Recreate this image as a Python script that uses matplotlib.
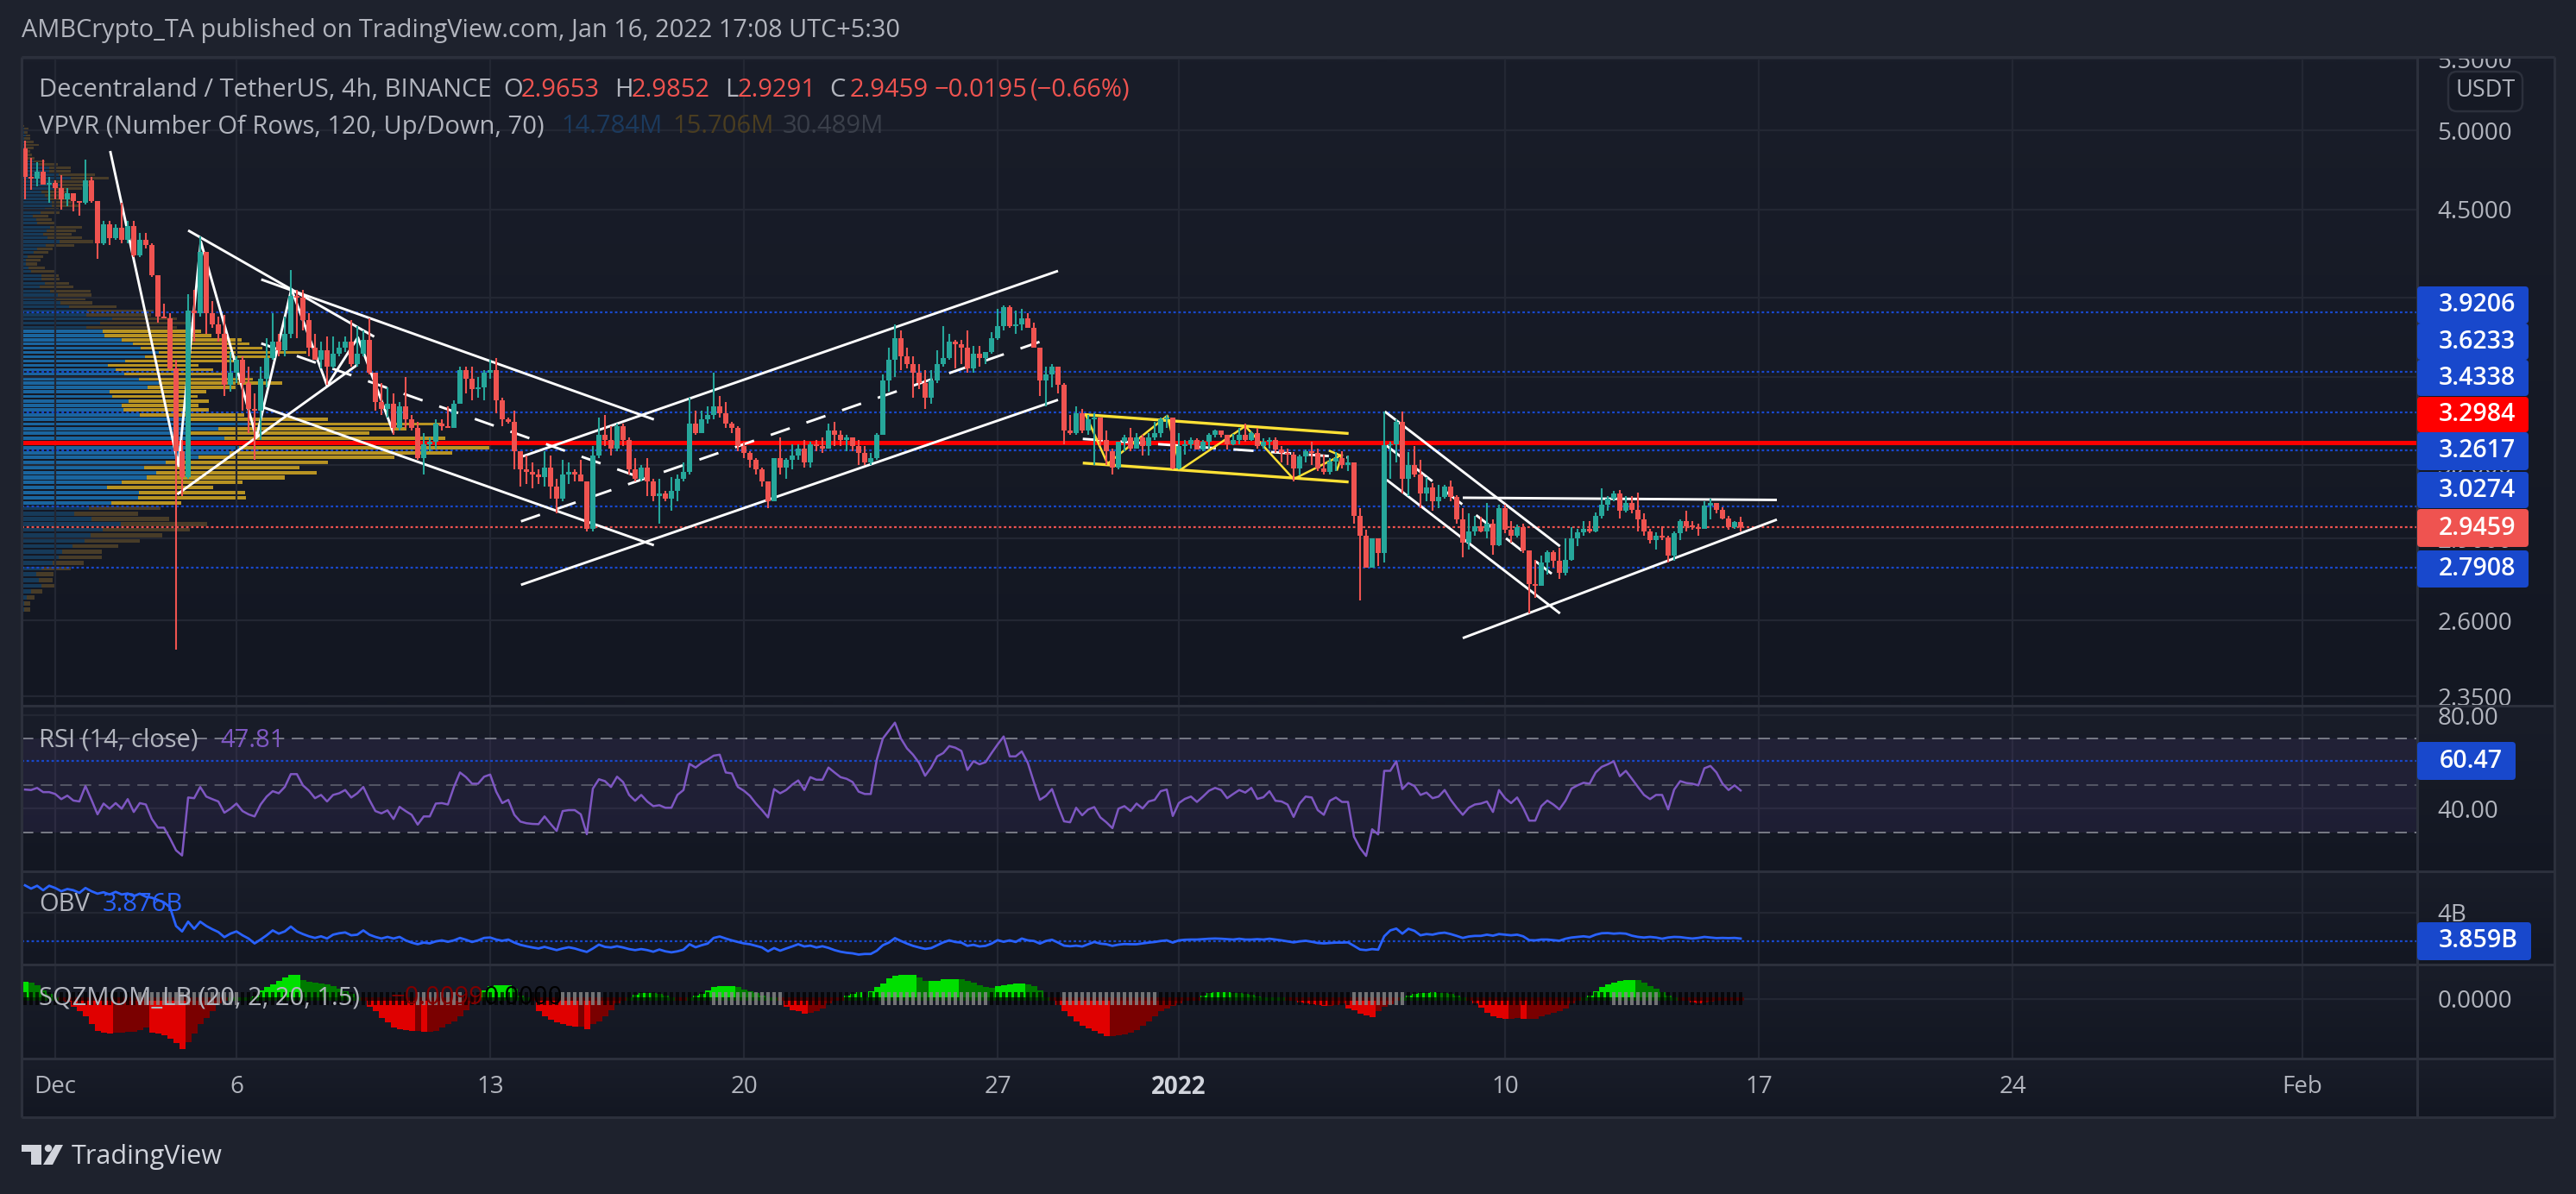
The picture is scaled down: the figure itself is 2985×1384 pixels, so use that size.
import numpy as np
import matplotlib
matplotlib.use("Agg")
import matplotlib.pyplot as plt
from matplotlib.patches import FancyBboxPatch, Polygon, Circle
from matplotlib.transforms import Bbox

W, H = 2985, 1384
FONT = "Open Sans"
plt.rcParams["font.family"] = [FONT, "DejaVu Sans"]

first_open = 4.88
closes = [
4.70,4.69,4.73,4.65,4.66,4.63,4.56,4.60,4.55,4.54,
4.68,4.55,4.30,4.41,4.33,4.39,4.32,4.40,4.23,4.32,
4.29,4.12,3.90,3.89,3.64,3.26,3.15,3.93,3.92,4.25,
3.92,3.86,3.81,3.56,3.62,3.68,3.57,3.45,3.44,3.59,
3.69,3.77,3.73,3.81,4.01,4.00,3.88,3.74,3.68,3.73,
3.65,3.71,3.74,3.77,3.66,3.71,3.78,3.62,3.48,3.45,
3.47,3.36,3.46,3.40,3.36,3.23,3.29,3.30,3.38,3.37,
3.36,3.47,3.63,3.59,3.54,3.55,3.62,3.63,3.49,3.40,
3.39,3.26,3.18,3.17,3.16,3.15,3.19,3.11,3.06,3.16,
3.17,3.16,3.13,2.94,3.24,3.33,3.31,3.27,3.37,3.31,
3.18,3.14,3.19,3.13,3.07,3.08,3.06,3.09,3.14,3.17,
3.38,3.34,3.40,3.42,3.46,3.43,3.38,3.36,3.28,3.25,
3.22,3.18,3.13,3.05,3.23,3.19,3.22,3.24,3.27,3.21,
3.29,3.28,3.27,3.35,3.33,3.31,3.32,3.28,3.25,3.21,
3.23,3.33,3.58,3.68,3.79,3.70,3.66,3.62,3.57,3.50,
3.58,3.66,3.69,3.77,3.76,3.74,3.64,3.71,3.69,3.72,
3.79,3.85,3.95,3.85,3.86,3.89,3.84,3.74,3.58,3.61,
3.65,3.56,3.35,3.34,3.43,3.35,3.40,3.41,3.31,3.26,
3.19,3.30,3.32,3.27,3.32,3.28,3.32,3.34,3.40,3.41,
3.185,3.28,3.29,3.31,3.265,3.30,3.33,3.35,3.33,3.29,
3.31,3.33,3.31,3.34,3.28,3.30,3.31,3.265,3.25,3.245,
3.185,3.235,3.26,3.25,3.185,3.17,3.215,3.23,3.20,3.21,
2.99,2.91,2.79,2.90,2.845,3.285,3.29,3.39,3.14,3.20,
3.16,3.08,3.105,3.05,3.065,3.11,3.065,2.975,2.885,2.93,
2.95,2.93,2.96,2.875,3.02,2.935,2.91,2.945,2.855,2.73,
2.725,2.81,2.85,2.815,2.77,2.82,2.90,2.925,2.94,2.93,
2.99,3.035,3.06,3.08,3.01,3.04,3.015,2.975,2.93,2.895,
2.91,2.905,2.835,2.92,2.97,2.95,2.945,2.94,3.03,3.04,
3.015,2.98,2.945,2.9653,2.9459]
highs = [
4.93,4.82,4.79,4.81,4.70,4.68,4.71,4.63,4.60,4.55,
4.81,4.70,4.55,4.43,4.43,4.41,4.54,4.43,4.43,4.36,
4.36,4.30,4.12,3.97,3.92,3.68,3.31,4.02,4.04,4.34,
4.13,3.98,3.90,3.91,3.72,3.70,3.70,3.65,3.52,3.65,
3.79,3.92,3.81,3.90,4.15,4.04,4.04,3.92,3.81,3.77,
3.80,3.80,3.77,3.80,3.88,3.85,3.83,3.89,3.62,3.57,
3.55,3.52,3.48,3.60,3.42,3.39,3.34,3.32,3.40,3.40,
3.46,3.49,3.65,3.65,3.65,3.60,3.63,3.68,3.69,3.50,
3.41,3.44,3.26,3.24,3.21,3.18,3.26,3.24,3.14,3.22,
3.21,3.18,3.22,3.13,3.28,3.41,3.42,3.37,3.38,3.38,
3.32,3.23,3.20,3.23,3.14,3.14,3.09,3.15,3.16,3.21,
3.50,3.44,3.44,3.46,3.62,3.51,3.48,3.39,3.37,3.30,
3.26,3.23,3.19,3.13,3.23,3.32,3.23,3.29,3.29,3.31,
3.30,3.31,3.32,3.38,3.39,3.35,3.33,3.31,3.31,3.28,
3.25,3.34,3.61,3.74,3.86,3.83,3.74,3.70,3.66,3.63,
3.63,3.73,3.85,3.81,3.78,3.78,3.83,3.75,3.75,3.72,
3.82,3.94,3.96,3.96,3.93,3.94,3.92,3.87,3.74,3.65,
3.66,3.65,3.57,3.42,3.46,3.45,3.42,3.43,3.40,3.35,
3.27,3.30,3.33,3.36,3.34,3.33,3.34,3.39,3.41,3.42,
3.41,3.34,3.31,3.32,3.315,3.31,3.34,3.355,3.35,3.33,
3.335,3.36,3.38,3.345,3.36,3.315,3.32,3.32,3.28,3.27,
3.255,3.245,3.265,3.30,3.27,3.245,3.23,3.255,3.26,3.24,
3.21,3.02,2.935,2.90,2.90,3.435,3.30,3.40,3.435,3.255,
3.28,3.22,3.15,3.125,3.115,3.115,3.135,3.075,3.02,3.00,
2.99,2.985,3.04,2.975,3.035,3.035,2.97,2.955,2.96,2.855,
2.82,2.835,2.855,2.855,2.865,2.90,2.945,2.94,2.97,2.97,
3.005,3.10,3.07,3.09,3.095,3.07,3.07,3.085,3.00,2.94,
2.925,2.95,2.91,2.93,2.975,3.01,2.97,2.96,3.05,3.06,
3.04,3.025,2.99,2.97,2.9852]
lows = [
4.56,4.62,4.64,4.65,4.54,4.56,4.50,4.52,4.49,4.46,
4.53,4.54,4.21,4.29,4.29,4.32,4.30,4.30,4.22,4.22,
4.27,4.11,3.87,3.89,3.63,2.50,3.07,3.14,3.77,3.90,
3.81,3.84,3.77,3.51,3.53,3.57,3.44,3.34,3.22,3.31,
3.55,3.68,3.70,3.70,3.79,3.79,3.83,3.70,3.68,3.64,
3.56,3.64,3.70,3.72,3.65,3.65,3.70,3.61,3.44,3.42,
3.41,3.33,3.35,3.36,3.35,3.22,3.16,3.26,3.27,3.35,
3.36,3.36,3.47,3.52,3.49,3.50,3.49,3.59,3.43,3.37,
3.38,3.18,3.11,3.12,3.10,3.12,3.11,3.06,3.00,3.05,
3.12,3.13,3.13,2.93,2.93,3.23,3.28,3.24,3.26,3.28,
3.16,3.13,3.13,3.07,3.05,2.96,3.05,3.01,3.05,3.13,
3.16,3.33,3.34,3.38,3.40,3.41,3.36,3.34,3.26,3.23,
3.19,3.16,3.11,3.02,3.05,3.16,3.14,3.18,3.22,3.19,
3.19,3.26,3.25,3.27,3.28,3.28,3.26,3.26,3.20,3.20,
3.20,3.22,3.33,3.53,3.60,3.63,3.64,3.50,3.54,3.45,
3.47,3.57,3.65,3.68,3.64,3.66,3.62,3.62,3.65,3.66,
3.71,3.78,3.83,3.84,3.81,3.83,3.84,3.74,3.51,3.46,
3.55,3.52,3.29,3.33,3.33,3.34,3.33,3.20,3.28,3.20,
3.16,3.18,3.26,3.26,3.27,3.24,3.24,3.31,3.32,3.36,
3.18,3.18,3.245,3.27,3.265,3.26,3.27,3.32,3.32,3.265,
3.285,3.29,3.30,3.305,3.27,3.27,3.27,3.25,3.21,3.20,
3.13,3.155,3.21,3.20,3.175,3.16,3.16,3.175,3.185,3.175,
2.96,2.67,2.79,2.79,2.795,2.81,3.14,3.21,3.08,3.07,
3.15,3.02,3.05,3.01,3.02,3.06,3.05,2.96,2.83,2.86,
2.91,2.925,2.90,2.84,2.87,2.92,2.885,2.905,2.845,2.625,
2.68,2.73,2.765,2.79,2.75,2.76,2.815,2.87,2.91,2.92,
2.925,2.98,3.01,3.05,2.98,3.005,3.00,2.93,2.91,2.88,
2.86,2.895,2.81,2.815,2.895,2.93,2.935,2.91,2.94,2.975,
3.00,2.975,2.935,2.94,2.9291]

rsi = [
48.2,48.0,48.9,47.1,47.1,46.3,44.1,45.6,43.5,43.1,49.7,43.8,37.6,42.2,40.0,42.4,40.0,44.1,38.6,42.4,
41.8,35.6,31.9,31.9,27.3,22.2,20.0,44.8,44.5,49.3,45.2,44.1,43.1,38.3,40.0,42.2,39.0,37.6,36.7,41.8,
45.2,47.5,46.6,49.3,54.8,54.8,50.0,47.7,44.5,45.9,43.1,45.9,46.6,48.0,44.8,46.6,49.3,43.8,39.0,38.0,
39.3,35.6,40.8,39.0,37.4,33.2,36.7,36.7,42.2,42.4,41.8,49.3,55.5,53.5,50.7,50.7,53.7,54.6,47.3,42.4,
43.8,37.4,34.5,33.8,33.5,33.4,36.7,33.5,30.5,39.0,39.4,39.4,37.6,29.1,48.6,52.6,51.8,49.3,53.7,51.4,
45.9,43.4,45.9,43.1,41.1,41.5,40.4,40.4,45.9,48.0,59.2,57.6,59.6,61.0,62.7,63.1,55.5,55.1,49.3,47.7,
45.5,42.2,39.4,36.3,48.4,46.6,48.0,50.3,52.1,48.0,53.5,52.4,52.4,57.6,55.5,53.5,52.8,51.4,47.3,
46.3,46.3,61.0,70.0,73.4,76.8,70.0,65.8,63.1,59.6,54.1,57.6,62.4,63.8,66.8,66.1,64.7,56.6,60.3,59.0,
59.9,63.8,67.5,70.9,62.4,62.4,64.5,59.6,51.4,43.8,45.5,48.4,41.1,34.6,34.2,40.4,37.2,39.7,40.7,36.3,
34.2,31.7,40.0,41.1,39.0,42.2,40.1,43.1,43.8,47.5,48.2,36.9,42.4,44.2,45.2,42.9,45.2,47.7,48.9,48.0,
44.5,46.3,48.0,46.9,48.9,44.2,44.9,47.5,43.4,43.1,41.8,36.5,42.2,45.2,44.8,39.4,37.4,43.4,44.8,42.9,
42.9,28.0,23.2,19.8,31.2,29.0,56.2,56.2,60.3,48.4,51.0,49.7,45.9,46.9,44.5,45.2,48.0,43.8,40.4,37.4,
40.4,41.8,42.2,43.1,38.6,48.0,44.5,42.4,44.8,40.4,34.9,34.9,41.1,43.5,41.8,39.7,43.4,48.6,50.0,51.1,
50.7,55.5,57.9,59.0,60.3,53.9,56.2,52.8,49.3,45.9,44.1,45.9,45.9,39.7,48.2,51.8,51.0,50.7,50.0,57.3,
58.3,55.5,50.7,48.0,50.0,47.81]

obv = [
4.135,4.119,4.133,4.111,4.133,4.122,4.106,4.117,4.111,4.098,4.122,4.106,4.094,4.101,4.090,4.103,4.090,4.095,4.082,4.094,
4.079,4.074,4.063,4.051,4.027,3.935,3.908,3.956,3.921,3.956,3.935,3.919,3.905,3.880,3.897,3.908,3.889,3.873,3.849,3.868,
3.889,3.913,3.897,3.908,3.932,3.908,3.895,3.884,3.876,3.884,3.873,3.892,3.899,3.903,3.889,3.892,3.913,3.892,3.881,3.873,
3.881,3.873,3.881,3.864,3.853,3.845,3.853,3.849,3.859,3.864,3.857,3.864,3.876,3.867,3.856,3.864,3.876,3.878,3.868,3.862,
3.868,3.853,3.842,3.835,3.829,3.824,3.832,3.824,3.816,3.824,3.830,3.824,3.815,3.807,3.824,3.843,3.832,3.829,3.835,3.829,
3.821,3.816,3.821,3.816,3.808,3.819,3.810,3.805,3.810,3.818,3.845,3.830,3.840,3.848,3.876,3.883,3.873,3.864,3.856,3.849,
3.845,3.837,3.829,3.810,3.826,3.813,3.824,3.834,3.845,3.834,3.838,3.829,3.835,3.827,3.816,3.808,3.803,3.800,3.794,
3.797,3.797,3.813,3.840,3.853,3.875,3.861,3.848,3.837,3.829,3.822,3.826,3.840,3.854,3.864,3.856,3.853,3.837,3.842,3.834,
3.837,3.848,3.865,3.857,3.864,3.856,3.873,3.864,3.861,3.848,3.861,3.867,3.853,3.838,3.835,3.838,3.834,3.845,3.856,3.848,
3.845,3.837,3.843,3.846,3.845,3.845,3.849,3.853,3.856,3.861,3.864,3.853,3.864,3.867,3.868,3.868,3.870,3.872,3.873,3.872,
3.870,3.868,3.872,3.868,3.868,3.870,3.868,3.872,3.868,3.864,3.859,3.854,3.859,3.862,3.857,3.851,3.849,3.851,3.853,3.853,
3.854,3.837,3.819,3.816,3.821,3.818,3.884,3.913,3.922,3.897,3.921,3.911,3.889,3.895,3.892,3.899,3.902,3.895,3.886,3.876,
3.883,3.886,3.886,3.892,3.887,3.895,3.892,3.889,3.892,3.884,3.865,3.864,3.868,3.868,3.865,3.862,3.872,3.878,3.881,3.884,
3.880,3.892,3.899,3.900,3.897,3.899,3.897,3.887,3.881,3.878,3.881,3.878,3.872,3.878,3.881,3.880,3.876,3.873,3.876,3.881,
3.878,3.875,3.876,3.875,3.876,3.873]

sqz = [
.104,.100,.084,.050,.030,.010,-.004,-.020,-.050,-.080,
-.110,-.160,-.200,-.210,-.216,-.210,-.210,-.206,-.204,-.196,
-.180,-.210,-.220,-.230,-.250,-.274,-.314,-.270,-.216,-.160,
-.120,-.080,-.030,-.010,.004,.004,.000,.010,.016,.050,
.070,.090,.110,.130,.148,.148,.114,.106,.100,.096,
.090,.076,.064,.044,.030,.010,-.004,-.050,-.080,-.120,
-.150,-.180,-.190,-.196,-.200,-.200,-.204,-.204,-.200,-.180,
-.160,-.140,-.110,-.070,-.030,-.004,.050,.080,.084,.084,
.084,.060,.020,.004,-.004,-.080,-.110,-.130,-.150,-.160,
-.170,-.176,-.176,-.190,-.160,-.140,-.110,-.070,-.030,-.004,
.010,.024,.034,.036,.034,.030,.020,.004,-.004,-.002,
.004,.020,.030,.050,.070,.078,.080,.080,.070,.056,
.044,.036,.020,.010,.004,-.004,-.050,-.070,-.080,-.094,
-.090,-.080,-.060,-.030,-.010,-.002,.020,.030,.040,
.010,.044,.070,.096,.126,.144,.148,.148,.148,.134,
.110,.110,.110,.120,.122,.122,.120,.110,.100,.084,
.074,.066,.076,.084,.090,.092,.094,.090,.080,.050,
.004,-.016,-.040,-.080,-.110,-.140,-.170,-.186,-.200,-.216,
-.236,-.236,-.230,-.224,-.210,-.196,-.170,-.140,-.110,-.080,
-.060,-.044,-.030,-.016,-.006,-.002,.020,.036,.040,.040,
.040,.036,.034,.030,.024,.016,.010,.006,.004,.002,
-.010,-.016,-.024,-.030,-.036,-.040,-.044,-.044,-.040,-.030,
-.060,-.070,-.096,-.104,-.114,-.080,-.050,-.036,-.010,.004,
.020,.030,.034,.036,.038,.036,.034,.030,.020,.006,
-.010,-.030,-.056,-.090,-.110,-.120,-.126,-.126,-.120,-.124,
-.124,-.124,-.110,-.100,-.090,-.076,-.060,-.030,-.010,.004,
.020,.044,.070,.090,.100,.110,.116,.116,.114,.100,
.080,.060,.040,.020,.006,-.010,-.016,-.024,-.030,-.024,
-.020,-.016,-.010,-.006,-.004,-.002]

squeeze_on_ranges = [(19,35),(65,72),(89,95),(114,125),(142,159),(172,187),(220,228),(263,270)]

vp_top_price = 5.03
vp_step = 0.02116
vp_up = [1,3,3,5,3,3,4,4,3,4,7,14,20,32,32,43,57,37,45,37,23,27,30,35,35,27,22,13,17,18,33,29,25,30,44,28,18,14,7,5,5,8,11,23,23,27,21,33,42,40,45,55,76,75,105,91,75,
94,96,116,129,
138,159,143,120,100,109,119,136,159,146,102,105,124,116,118,137,196,263,228,196,235,250,252,241,205,167,142,156,145,116,99,136,135,104,
78,61,81,115,94,80,73,59,47,43,36,23,17,20,23,11,6,3,3,0,0,0,0,0,0]
vp_total = [3,8,7,10,10,14,20,14,10,12,15,27,42,57,57,85,101,80,80,70,53,50,58,58,67,43,44,31,35,39,70,63,58,70,83,61,36,31,25,22,18,27,38,43,44,55,60,80,81,74,82,110,153,150,180,200,180,
208,220,255,264,
279,330,293,246,205,222,236,268,302,250,214,204,217,205,217,258,355,486,446,403,491,536,544,499,432,355,322,342,305,256,222,259,260,185,
161,135,171,215,195,163,137,112,93,93,72,57,37,36,39,24,15,10,10,2,2,2,2,2,2]
vp_bright = (57, 95)

level_prices = [3.9206, 3.6233, 3.4338, 3.2617, 3.0274, 2.7908]
poc_price = 3.2984
last_price = 2.9459

price_ticks = [5.5, 5.0, 4.5, 4.0, 3.6, 3.2, 2.9, 2.6, 2.35]
price_tick_labels = ["5.5000","5.0000","4.5000","4.0000","3.6000","3.2000","2.9000","2.6000","2.3500"]
time_ticks = [5, 35, 77, 119, 161, 191, 245, 287, 329, 377]
time_labels = ["Dec","6","13","20","27","2022","10","17","24","Feb"]

white_solid = [
 ([14.1,25.4,29.1,38.3,44.1,50.0,55.1,61.0],[4.864,3.196,4.31,3.319,4.046,3.557,3.793,3.339]),
 ([25.2,55.0],[3.077,3.657]),
 ([27.0,57.8],[4.375,3.797]),
 ([39.1,104.1],[4.098,3.40]),
 ([39.1,104.1],[3.459,2.875]),
 ([82.4,171.0],[3.237,4.145]),
 ([82.1,171.0],[2.727,3.49]),
 ([225.1,254.1],[3.436,2.871]),
 ([225.4,254.1],[3.137,2.625]),
 ([238.0,290.0],[3.063,3.054]),
 ([238.0,290.0],[2.54,2.975]),
]
white_dashed = [
 ([39.1,104.1],[3.763,3.127]),
 ([82.1,169.3],[2.968,3.785]),
 ([175.1,219.1],[3.313,3.232]),
 ([225.4,254.1],[3.283,2.744]),
]
yellow_lines = [
 ([175.4,219.1],[3.422,3.337]),
 ([175.1,219.1],[3.208,3.128]),
]
yellow_zigzag = [
 ([175.6,179.2,189.1,191.3,202.0,210.0,218.0],[3.42,3.205,3.417,3.18,3.37,3.14,3.243]),
 ([216.0,218.0,217.2],[3.26,3.238,3.18]),
]

# ---- layout helpers (pixel rows of the panes)
LEFT, RIGHT, AXR = 25, 2801, 2960
panes = {"main":(66,818),"rsi":(818,1010),"obv":(1010,1118),"sqz":(1118,1227)}
BG_TOP, BG_BOT = np.array([25,29,41])/255, np.array([19,23,34])/255
GRID, FRAME = "#232733", "#2c303c"
TXT = "#b2b5be"
fig = plt.figure(figsize=(W/100,H/100), dpi=100, facecolor="#1e222d")

bg = fig.add_axes([0,0,1,1], zorder=-1)
bg.set_xlim(0,W); bg.set_ylim(H,0); bg.axis("off")
grad = np.linspace(0,1,64)[:,None,None]
gimg = BG_TOP*(1-grad)+BG_BOT*grad
for (t,b) in list(panes.values())+[(1227,1295)]:
    bg.imshow(gimg, extent=(LEFT,AXR,b,t), aspect="auto", interpolation="bilinear")
bg.set_xlim(0,W); bg.set_ylim(H,0)

def make_ax(name):
    t,b = panes[name]
    ax = fig.add_axes([LEFT/W,1-b/H,(RIGHT-LEFT)/W,(b-t)/H], zorder=2)
    ax.patch.set_visible(False)
    for s in ax.spines.values(): s.set_visible(False)
    ax.set_xlim((LEFT-29)/7,(RIGHT-29)/7)
    ax.set_xticks(time_ticks)
    ax.tick_params(axis="x",length=0,labelbottom=False)
    ax.yaxis.tick_right()
    ax.tick_params(axis="y",length=0,pad=17,labelsize=20,labelcolor=TXT)
    ax.grid(True,color=GRID,lw=1.6,zorder=0)
    ax.set_axisbelow(True)
    return ax

def clip_labels(ax,name):
    t,b = panes[name]
    box = Bbox.from_extents(0,H-b,W,H-t)
    for lab in ax.get_yticklabels():
        lab.set_clip_on(True); lab.set_clip_box(box)

# ---- main pane
n = len(closes)
x = np.arange(n)
C = np.array(closes); O = np.array([first_open]+closes[:-1])
Hi = np.array(highs); Lo = np.array(lows)
ax = make_ax("main")
ax.set_yscale("log")
ax.set_ylim(2.321,5.514)
ax.set_yticks(price_ticks, price_tick_labels)
ax.minorticks_off()
clip_labels(ax,"main")

vp = ax.twiny()
vp.set_zorder(1); ax.set_zorder(2)
vp.set_xlim(0,RIGHT-LEFT); vp.axis("off")
vp_prices = vp_top_price-vp_step*np.arange(len(vp_up))
up = np.array(vp_up,float); tot = np.array(vp_total,float)
bright = np.zeros(len(up),bool); bright[vp_bright[0]:vp_bright[1]] = True
vp.barh(vp_prices,up,height=vp_step*.72,color=np.where(bright,"#1a659f","#163a59"),lw=0)
vp.barh(vp_prices,tot-up,left=up,height=vp_step*.72,color=np.where(bright,"#b89322","#483c28"),lw=0)

dot = (0,(1.3,1.3))
for p in level_prices:
    ax.axhline(p,color="#1848cc",lw=1.6,ls=dot,zorder=2)
ax.axhline(last_price,color="#ef5350",lw=1.6,ls=dot,zorder=2)
ax.axhline(poc_price,color="#ff0000",lw=3.6,zorder=2.2)
for xs,ys in white_solid:
    ax.plot(xs,ys,color="white",lw=2.1,zorder=3,solid_capstyle="butt")
for xs,ys in white_dashed:
    ax.plot(xs,ys,color="white",lw=2.1,zorder=3,ls=(0,(8,7)))
for xs,ys in yellow_lines:
    ax.plot(xs,ys,color="#ffe135",lw=2.4,zorder=3.1,solid_capstyle="butt")
for xs,ys in yellow_zigzag:
    ax.plot(xs,ys,color="#ffe135",lw=1.8,zorder=3.1)

cols = np.where(C>=O,"#26a69a","#ef5350")
ax.vlines(x,Lo,Hi,colors=cols,lw=1.5,zorder=4)
ax.bar(x,np.maximum(np.abs(C-O),0.006),bottom=np.minimum(C,O),width=5.4/7,color=cols,lw=0,zorder=4.1)

# ---- RSI
a2 = make_ax("rsi")
a2.set_ylim(80-(1010-829)/2.71,80+(829-818)/2.71)
a2.set_yticks([80,40],["80.00","40.00"])
clip_labels(a2,"rsi")
a2.axhspan(30,70,color="#7e57c2",alpha=.1,lw=0,zorder=1)
dash = (0,(7,4.5))
a2.axhline(70,color="#787b86",lw=1.4,ls=dash,zorder=2)
a2.axhline(50,color="#787b86",lw=1.4,ls=dash,alpha=.6,zorder=2)
a2.axhline(30,color="#787b86",lw=1.4,ls=dash,zorder=2)
a2.axhline(60.47,color="#1848cc",lw=1.6,ls=dot,zorder=2)
a2.plot(np.arange(len(rsi)),rsi,color="#7e57c2",lw=1.8,zorder=3)

# ---- OBV
a3 = make_ax("obv")
a3.set_ylim(3.745,4.204)
a3.set_yticks([4.0],["4B"])
clip_labels(a3,"obv")
a3.axhline(3.859,color="#1848cc",lw=1.6,ls=dot,zorder=2)
a3.plot(np.arange(len(obv)),obv,color="#2962ff",lw=2.0,zorder=3)

# ---- SQZMOM
a4 = make_ax("sqz")
a4.set_ylim(-0.373,0.212)
a4.set_yticks([0],["0.0000"])
clip_labels(a4,"sqz")
S = np.array(sqz); Sx = np.arange(len(S))
prev = np.r_[S[0],S[:-1]]
hist_cols = np.where(S>=0,np.where(S>=prev,"#00e000","#007a00"),np.where(S<prev,"#e00000","#7a0000"))
a4.bar(Sx,S,width=1.0,color=hist_cols,lw=0,zorder=2)
band = np.where(S>=0,"#063f06","#4a0505")
a4.bar(Sx,np.full(len(S),.02),bottom=-.014,width=1.0,color=band,lw=0,zorder=2.1)
gray = np.zeros(len(S),bool)
for a,b in squeeze_on_ranges: gray[a:b+1] = True
a4.bar(Sx[~gray],np.full((~gray).sum(),.08),bottom=-.04,width=.5,color="#000000",alpha=.72,lw=0,zorder=3)
a4.bar(Sx[gray],np.full(gray.sum(),.08),bottom=-.04,width=.5,color="#8a8a8a",alpha=.8,lw=0,zorder=3)
a4.tick_params(axis="x",labelbottom=True,pad=14,labelsize=20,labelcolor=TXT)
a4.set_xticks(time_ticks,time_labels)
for lab,s in zip(a4.get_xticklabels(),time_labels):
    if s=="2022":
        lab.set_fontweight("bold"); lab.set_color("#d1d4dc")

# ---- overlay: frames, tags, legend text
ov = fig.add_axes([0,0,1,1], zorder=10)
ov.set_xlim(0,W); ov.set_ylim(H,0); ov.axis("off"); ov.patch.set_visible(False)
for yy in [66,818,1010,1118,1227,1295]:
    ov.plot([LEFT,AXR],[yy,yy],color=FRAME,lw=2.2,solid_capstyle="butt")
for xx in [LEFT,RIGHT,AXR]:
    ov.plot([xx,xx],[66,1295],color=FRAME,lw=2.2,solid_capstyle="butt")

def tag(y0,y1,x1,color,label):
    ov.add_patch(FancyBboxPatch((2801,y0),x1-2801,y1-y0,boxstyle="round,pad=0,rounding_size=4",fc=color,ec="none",zorder=5))
    ov.text(x1-15,(y0+y1)/2,label,color="white",fontsize=20.5,ha="right",va="center",weight="semibold",zorder=6)
tag(332,375,2930,"#1848cc","3.9206")
tag(375,417,2930,"#1848cc","3.6233")
tag(417,459,2930,"#1848cc","3.4338")
tag(460,501,2930,"#ff0000","3.2984")
tag(501,545,2930,"#1848cc","3.2617")
tag(547,589,2930,"#1848cc","3.0274")
tag(590,634,2930,"#ef5350","2.9459")
tag(638,681,2930,"#1848cc","2.7908")
tag(860,904,2915,"#1848cc","60.47")
tag(1069,1113,2933,"#1848cc","3.859B")
ov.add_patch(FancyBboxPatch((2837,83),86,46,boxstyle="round,pad=0,rounding_size=10",fc="#151924",ec="#2c303c",lw=1.8,zorder=5))
ov.text(2880,105,"USDT",color=TXT,fontsize=19.5,ha="center",va="center",zorder=6)

def T(x,y,s,c=TXT,fs=21,**k):
    ov.text(x,y,s,color=c,fontsize=fs,va="center",ha="left",zorder=7,**k)
T(25,36,"AMBCrypto_TA published on TradingView.com, Jan 16, 2022 17:08 UTC+5:30",fs=20.8)
T(45,104,"Decentraland / TetherUS, 4h, BINANCE")
RED = "#ef5350"
T(583,104,"O"); T(604,104,"2.9653",RED)
T(712,104,"H"); T(732,104,"2.9852",RED)
T(840,104,"L"); T(855,104,"2.9291",RED)
T(961,104,"C"); T(985,104,"2.9459",RED)
T(1082,104,"\u22120.0195",RED); T(1194,104,"(\u22120.66%)",RED)
T(45,147,"VPVR (Number Of Rows, 120, Up/Down, 70)")
T(650,147,"14.784M","#1b3a5e"); T(779,147,"15.706M","#4a3d20"); T(907,147,"30.489M","#3a3f4a")
T(45,858,"RSI (14, close)"); T(255,858,"47.81","#7e57c2")
T(45,1049,"OBV"); T(119,1049,"3.876B","#2962ff")
T(45,1157,"SQZMOM_LB (20, 2, 20, 1.5)")
T(453,1157,"\u22120.0099","#800000"); T(561,1157,"0.0000","#000000")

LOGO = "#d1d4dc"
ov.add_patch(Polygon([(25,1327),(48,1327),(48,1350),(36,1350),(36,1335),(25,1335)],fc=LOGO,ec="none"))
ov.add_patch(Circle((56,1331),4.2,fc=LOGO,ec="none"))
ov.add_patch(Polygon([(64,1327),(73,1327),(61,1350),(50,1350)],fc=LOGO,ec="none"))
T(83,1341,"TradingView",LOGO,fs=22,weight="medium")

fig.savefig("out.png",dpi=100,facecolor=fig.get_facecolor())
